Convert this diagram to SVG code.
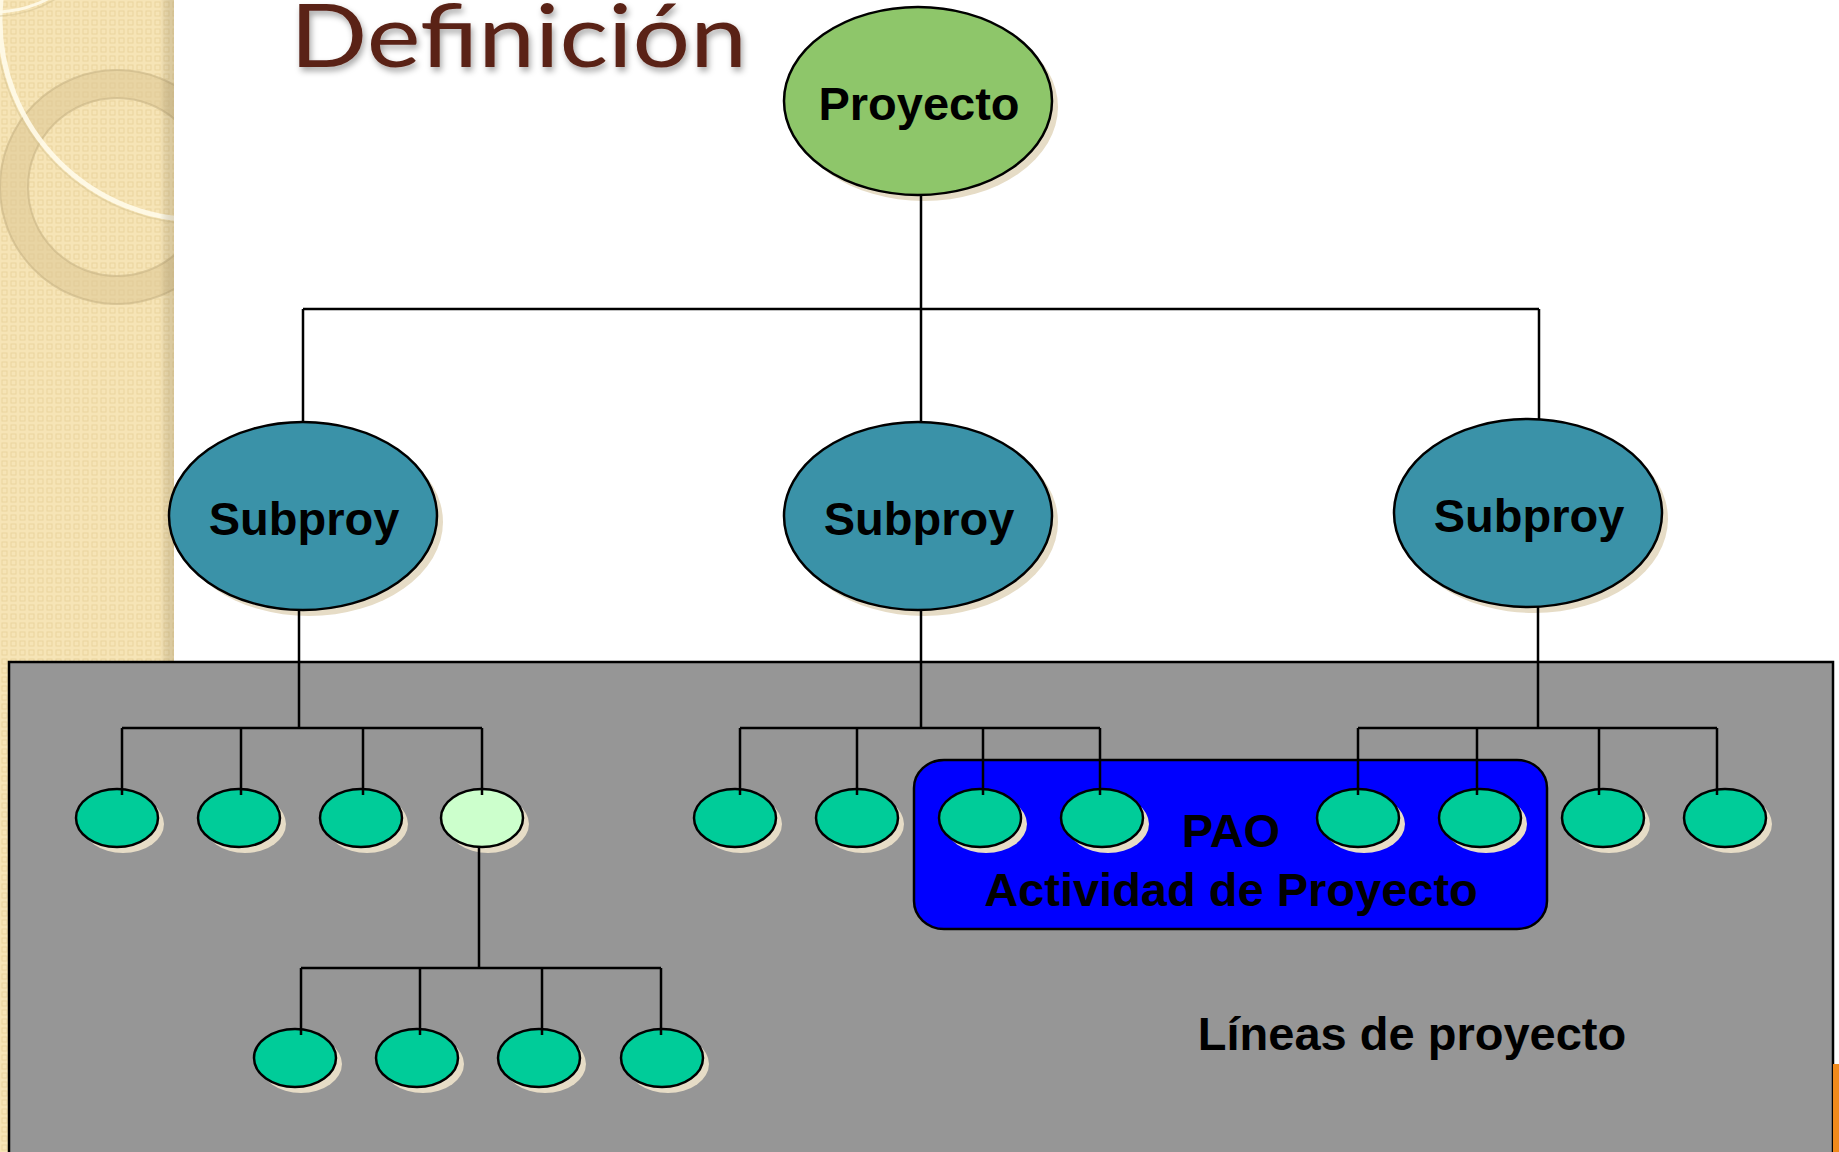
<svg xmlns="http://www.w3.org/2000/svg" width="1839" height="1152" viewBox="0 0 1839 1152">
<defs>
<pattern id="chk" width="9" height="9" patternUnits="userSpaceOnUse">
<rect width="9" height="9" fill="#f6e4b6"/>
<rect x="2" y="2" width="5" height="5" fill="none" stroke="#ead49e" stroke-width="1"/>
</pattern>
<linearGradient id="edge" x1="0" y1="0" x2="1" y2="0">
<stop offset="0" stop-color="#000" stop-opacity="0"/>
<stop offset="1" stop-color="#8a7a55" stop-opacity="0.25"/>
</linearGradient>
<clipPath id="stripclip"><rect x="0" y="0" width="174" height="1152"/></clipPath>
<filter id="tshadow" x="-5%" y="-20%" width="110%" height="150%">
<feDropShadow dx="2" dy="4" stdDeviation="3" flood-color="#000" flood-opacity="0.35"/>
</filter>
</defs>
<style>
.ln{stroke:#000;stroke-width:2.5;fill:none}
.big{stroke:#000;stroke-width:2.5}
.sh{fill:#e6dcc6}
.leaf{fill:#00cc99;stroke:#000;stroke-width:2.5}
.leafL{fill:#ccffcc;stroke:#000;stroke-width:2.5}
.lbl{font-family:"Liberation Sans",Arial,sans-serif;font-weight:bold;fill:#000;text-anchor:middle}
</style>
<rect width="1839" height="1152" fill="#fff"/>
<g id="strip" clip-path="url(#stripclip)">
<rect x="0" y="0" width="174" height="1152" fill="url(#chk)"/>
<circle cx="117" cy="187" r="103" fill="none" stroke="#dcc693" stroke-opacity="0.55" stroke-width="28"/>
<circle cx="117" cy="187" r="117" fill="none" stroke="#c8b485" stroke-opacity="0.6" stroke-width="2"/>
<circle cx="117" cy="187" r="89" fill="none" stroke="#c8b485" stroke-opacity="0.6" stroke-width="2"/>
<circle cx="200" cy="20" r="200" fill="none" stroke="#fffbea" stroke-opacity="0.9" stroke-width="5"/>
<circle cx="200" cy="20" r="204" fill="none" stroke="#d6c391" stroke-opacity="0.5" stroke-width="1.5"/>
<circle cx="-5" cy="-100" r="112" fill="none" stroke="#fffbea" stroke-opacity="0.9" stroke-width="3"/>
<circle cx="-5" cy="-100" r="116" fill="none" stroke="#d6c391" stroke-opacity="0.5" stroke-width="1.5"/>
<rect x="160" y="0" width="14" height="1152" fill="url(#edge)"/>
</g>
<text x="290" y="67" font-family="Lato,'Open Sans',sans-serif" font-size="88" fill="#5a2317" textLength="457" lengthAdjust="spacingAndGlyphs" filter="url(#tshadow)">Definición</text>
<rect x="9" y="662" width="1824" height="500" fill="#969696" stroke="#000" stroke-width="2.5"/>
<rect x="1833" y="1064" width="6" height="88" fill="#f08a1c"/>
<g id="pao">
<rect x="914" y="760" width="633" height="169" rx="30" ry="28" fill="#0000ff" stroke="#000" stroke-width="2.5"/>
<text class="lbl" x="1231" y="847" font-size="47">PAO</text>
<text class="lbl" x="1231" y="906" font-size="47">Actividad de Proyecto</text>
</g>
<g id="proyecto">
<ellipse class="sh" cx="924" cy="107" rx="134" ry="94"/>
<ellipse class="big" cx="918" cy="101" rx="134" ry="94" fill="#8ec66a"/>
<text class="lbl" x="919" y="120" font-size="47">Proyecto</text>
</g>
<g id="subproy1">
<ellipse class="sh" cx="309" cy="522" rx="134" ry="94"/>
<ellipse class="big" cx="303" cy="516" rx="134" ry="94" fill="#3a92a8"/>
<text class="lbl" x="304" y="535" font-size="47">Subproy</text>
</g>
<g id="subproy2">
<ellipse class="sh" cx="924" cy="522" rx="134" ry="94"/>
<ellipse class="big" cx="918" cy="516" rx="134" ry="94" fill="#3a92a8"/>
<text class="lbl" x="919" y="535" font-size="47">Subproy</text>
</g>
<g id="subproy3">
<ellipse class="sh" cx="1534" cy="519" rx="134" ry="94"/>
<ellipse class="big" cx="1528" cy="513" rx="134" ry="94" fill="#3a92a8"/>
<text class="lbl" x="1529" y="532" font-size="47">Subproy</text>
</g>
<g id="leaves">
<g id="a1"><ellipse class="sh" cx="123" cy="824" rx="41" ry="29"/><ellipse class="leaf" cx="117" cy="818" rx="41" ry="29"/></g>
<g id="a2"><ellipse class="sh" cx="245" cy="824" rx="41" ry="29"/><ellipse class="leaf" cx="239" cy="818" rx="41" ry="29"/></g>
<g id="a3"><ellipse class="sh" cx="367" cy="824" rx="41" ry="29"/><ellipse class="leaf" cx="361" cy="818" rx="41" ry="29"/></g>
<g id="a4"><ellipse class="sh" cx="488" cy="824" rx="41" ry="29"/><ellipse class="leafL" cx="482" cy="818" rx="41" ry="29"/></g>
<g id="b1"><ellipse class="sh" cx="741" cy="824" rx="41" ry="29"/><ellipse class="leaf" cx="735" cy="818" rx="41" ry="29"/></g>
<g id="b2"><ellipse class="sh" cx="863" cy="824" rx="41" ry="29"/><ellipse class="leaf" cx="857" cy="818" rx="41" ry="29"/></g>
<g id="b3"><ellipse class="sh" cx="986" cy="824" rx="41" ry="29"/><ellipse class="leaf" cx="980" cy="818" rx="41" ry="29"/></g>
<g id="b4"><ellipse class="sh" cx="1108" cy="824" rx="41" ry="29"/><ellipse class="leaf" cx="1102" cy="818" rx="41" ry="29"/></g>
<g id="c1"><ellipse class="sh" cx="1364" cy="824" rx="41" ry="29"/><ellipse class="leaf" cx="1358" cy="818" rx="41" ry="29"/></g>
<g id="c2"><ellipse class="sh" cx="1486" cy="824" rx="41" ry="29"/><ellipse class="leaf" cx="1480" cy="818" rx="41" ry="29"/></g>
<g id="c3"><ellipse class="sh" cx="1609" cy="824" rx="41" ry="29"/><ellipse class="leaf" cx="1603" cy="818" rx="41" ry="29"/></g>
<g id="c4"><ellipse class="sh" cx="1731" cy="824" rx="41" ry="29"/><ellipse class="leaf" cx="1725" cy="818" rx="41" ry="29"/></g>
<g id="d1"><ellipse class="sh" cx="301" cy="1064" rx="41" ry="29"/><ellipse class="leaf" cx="295" cy="1058" rx="41" ry="29"/></g>
<g id="d2"><ellipse class="sh" cx="423" cy="1064" rx="41" ry="29"/><ellipse class="leaf" cx="417" cy="1058" rx="41" ry="29"/></g>
<g id="d3"><ellipse class="sh" cx="545" cy="1064" rx="41" ry="29"/><ellipse class="leaf" cx="539" cy="1058" rx="41" ry="29"/></g>
<g id="d4"><ellipse class="sh" cx="668" cy="1064" rx="41" ry="29"/><ellipse class="leaf" cx="662" cy="1058" rx="41" ry="29"/></g>
</g>
<g id="connectors" class="ln">
<path d="M921 195 V309 M303 309 H1539 M303 309 V422 M921 309 V422 M1539 309 V419"/>
<path d="M299 610 V728 M122 728 H482 M122 728 V795 M241 728 V795 M363 728 V795 M482 728 V795"/>
<path d="M921 610 V728 M740 728 H1100 M740 728 V795 M857 728 V795 M983 728 V795 M1100 728 V795"/>
<path d="M1538 607 V728 M1358 728 H1717 M1358 728 V795 M1477 728 V795 M1599 728 V795 M1717 728 V795"/>
<path d="M479 847 V968 M301 968 H661 M301 968 V1035 M420 968 V1035 M542 968 V1035 M661 968 V1035"/>
</g>
<text class="lbl" x="1412" y="1050" font-size="47">Líneas de proyecto</text>
</svg>
